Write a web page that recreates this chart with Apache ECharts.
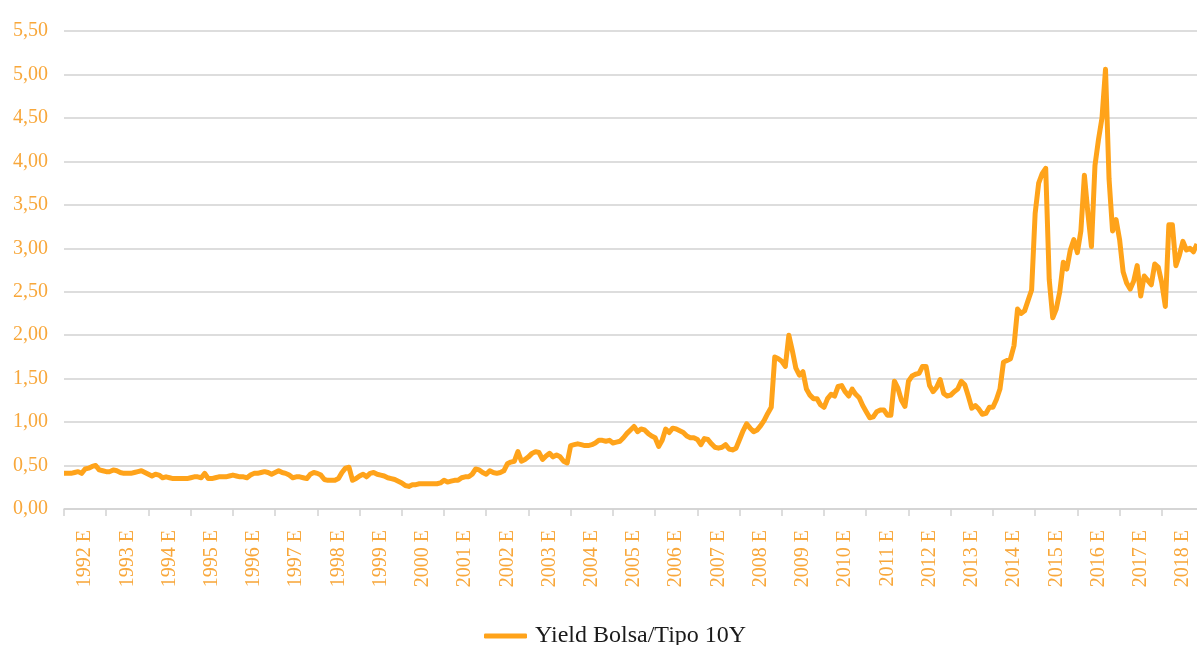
<!DOCTYPE html>
<html>
<head>
<meta charset="utf-8">
<title>Yield Bolsa/Tipo 10Y</title>
<script src="https://cdn.jsdelivr.net/npm/echarts@6/dist/echarts.min.js"></script>
<style>
  html, body { margin: 0; padding: 0; background: #fff; }
  #chart { width: 1197px; height: 645px; }
</style>
</head>
<body>
<div id="chart"></div>
<script>
// years on the x axis (one tick per January, label mid-year)
const years = [1992, 1993, 1994, 1995, 1996, 1997, 1998, 1999, 2000, 2001, 2002, 2003, 2004,
  2005, 2006, 2007, 2008, 2009, 2010, 2011, 2012, 2013, 2014, 2015, 2016, 2017, 2018]
const yearLabels = years.map(y => y + ' E')

// monthly yield values, Jan 1992 .. Nov 2018
const yieldValues = [
  0.41, 0.41, 0.41, 0.42, 0.43, 0.41, 0.46, 0.47, 0.49, 0.50, 0.45, 0.44, // 1992
  0.43, 0.43, 0.45, 0.44, 0.42, 0.41, 0.41, 0.41, 0.42, 0.43, 0.44, 0.42, // 1993
  0.40, 0.38, 0.40, 0.39, 0.36, 0.37, 0.36, 0.35, 0.35, 0.35, 0.35, 0.35, // 1994
  0.36, 0.37, 0.37, 0.36, 0.41, 0.35, 0.35, 0.36, 0.37, 0.37, 0.37, 0.38, // 1995
  0.39, 0.38, 0.37, 0.37, 0.36, 0.39, 0.41, 0.41, 0.42, 0.43, 0.42, 0.40, // 1996
  0.42, 0.44, 0.42, 0.41, 0.39, 0.36, 0.37, 0.37, 0.36, 0.35, 0.40, 0.42, // 1997
  0.41, 0.39, 0.34, 0.33, 0.33, 0.33, 0.35, 0.42, 0.47, 0.48, 0.33, 0.35, // 1998
  0.38, 0.40, 0.37, 0.41, 0.42, 0.40, 0.39, 0.38, 0.36, 0.35, 0.34, 0.32, // 1999
  0.30, 0.27, 0.26, 0.28, 0.28, 0.29, 0.29, 0.29, 0.29, 0.29, 0.29, 0.30, // 2000
  0.33, 0.31, 0.32, 0.33, 0.33, 0.36, 0.37, 0.37, 0.40, 0.46, 0.45, 0.42, // 2001
  0.40, 0.44, 0.42, 0.41, 0.42, 0.44, 0.52, 0.54, 0.55, 0.66, 0.55, 0.57, // 2002
  0.60, 0.64, 0.66, 0.65, 0.57, 0.61, 0.64, 0.60, 0.62, 0.60, 0.55, 0.53, // 2003
  0.73, 0.74, 0.75, 0.74, 0.73, 0.73, 0.74, 0.76, 0.79, 0.79, 0.78, 0.79, // 2004
  0.76, 0.77, 0.78, 0.82, 0.87, 0.91, 0.95, 0.89, 0.92, 0.91, 0.87, 0.84, // 2005
  0.82, 0.72, 0.79, 0.92, 0.88, 0.93, 0.92, 0.90, 0.88, 0.84, 0.82, 0.82, // 2006
  0.80, 0.74, 0.81, 0.80, 0.75, 0.71, 0.70, 0.71, 0.74, 0.69, 0.68, 0.70, // 2007
  0.80, 0.90, 0.98, 0.93, 0.89, 0.91, 0.96, 1.02, 1.10, 1.17, 1.75, 1.73, // 2008
  1.70, 1.64, 2.00, 1.82, 1.62, 1.54, 1.58, 1.38, 1.31, 1.27, 1.27, 1.20, // 2009
  1.17, 1.27, 1.32, 1.30, 1.41, 1.42, 1.35, 1.30, 1.38, 1.32, 1.28, 1.19, // 2010
  1.12, 1.05, 1.06, 1.12, 1.14, 1.14, 1.08, 1.08, 1.47, 1.39, 1.25, 1.18, // 2011
  1.47, 1.53, 1.55, 1.56, 1.64, 1.64, 1.42, 1.35, 1.40, 1.49, 1.33, 1.30, // 2012
  1.31, 1.35, 1.38, 1.47, 1.43, 1.30, 1.16, 1.19, 1.15, 1.09, 1.10, 1.17, // 2013
  1.17, 1.26, 1.38, 1.69, 1.71, 1.73, 1.88, 2.30, 2.25, 2.28, 2.40, 2.52, // 2014
  3.40, 3.75, 3.86, 3.92, 2.64, 2.20, 2.30, 2.50, 2.84, 2.76, 2.98, 3.10, // 2015
  2.95, 3.20, 3.84, 3.40, 3.02, 3.95, 4.25, 4.50, 5.06, 3.80, 3.20, 3.33, // 2016
  3.10, 2.73, 2.60, 2.53, 2.62, 2.80, 2.45, 2.68, 2.63, 2.58, 2.82, 2.78, // 2017
  2.60, 2.33, 3.27, 3.27, 2.80, 2.92, 3.08, 2.98, 3.00, 2.96, 3.05 // 2018
]

// category per month, built from the years
const months = []
years.forEach(y => {
  for (let m = 1; m <= 12; m++) months.push(y + '-' + m)
})
months.length = yieldValues.length

const orange = '#FFA31A'
const labelOrange = '#F8A73A'
const gridGray = '#d2d2d2'
const serif = '"Liberation Serif", "Times New Roman", serif'

const chart = echarts.init(document.getElementById('chart'))
const option = {
  animation: false,
  backgroundColor: '#fff',
  grid: {
    left: 64,
    right: 0,
    top: 31,
    bottom: 136
  },
  legend: {
    data: ['Yield Bolsa/Tipo 10Y'],
    left: 479,
    top: 619,
    icon: 'roundRect',
    itemWidth: 43,
    itemHeight: 5,
    itemStyle: { color: orange },
    textStyle: {
      color: '#1a1a1a',
      fontFamily: serif,
      fontSize: 24,
      padding: [0, 0, 0, 3]
    }
  },
  xAxis: {
    type: 'category',
    boundaryGap: false,
    data: months,
    axisLine: {
      show: true,
      lineStyle: { color: gridGray, width: 1.5 }
    },
    axisTick: {
      show: true,
      interval: 11,
      length: 7,
      lineStyle: { color: gridGray, width: 1.5 }
    },
    axisLabel: {
      interval: (index) => index % 12 === 6,
      rotate: 90,
      margin: 21,
      color: labelOrange,
      fontFamily: serif,
      fontSize: 20,
      formatter: (value, index) => yearLabels[Math.floor(index / 12)]
    },
    splitLine: { show: false }
  },
  yAxis: {
    type: 'value',
    min: 0,
    max: 5.5,
    interval: 0.5,
    axisLine: { show: false },
    axisTick: { show: false },
    axisLabel: {
      margin: 16,
      color: labelOrange,
      fontFamily: serif,
      fontSize: 20,
      formatter: (v) => v.toFixed(2).replace('.', ',')
    },
    splitLine: {
      show: true,
      lineStyle: { color: gridGray, width: 1.5 }
    }
  },
  series: [
    {
      name: 'Yield Bolsa/Tipo 10Y',
      type: 'line',
      data: yieldValues,
      symbol: 'none',
      showSymbol: false,
      smooth: false,
      lineStyle: {
        color: orange,
        width: 5,
        join: 'round'
      },
      itemStyle: { color: orange }
    }
  ]
}
chart.setOption(option)
</script>
</body>
</html>
